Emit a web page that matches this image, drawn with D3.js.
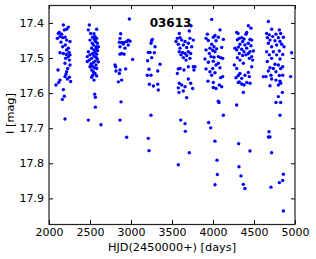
<!DOCTYPE html>
<html>
<head>
<meta charset="utf-8">
<script src="https://cdn.jsdelivr.net/npm/d3@7"></script>
<style>
  html, body { margin: 0; padding: 0; background: #fff; }
  svg { display: block; }
  text { font-family: "DejaVu Sans", sans-serif; }
</style>
</head>
<body>
<svg id="chart" width="316" height="259"></svg>
<script>
// ---- data: [HJD-2450000, I mag], grouped by observing season ----
const season1 = [[2175,17.406],[2126,17.427],[2236,17.412],[2215,17.418],[2187,17.420],[2114,17.430],[2154,17.432],[2134,17.439],[2195,17.441],[2167,17.442],[2102,17.444],[2215,17.449],[2256,17.453],[2146,17.455],[2199,17.463],[2167,17.468],[2236,17.472],[2215,17.477],[2134,17.485],[2244,17.484],[2175,17.487],[2211,17.490],[2256,17.491],[2236,17.496],[2203,17.501],[2248,17.506],[2195,17.515],[2256,17.520],[2110,17.534],[2228,17.530],[2215,17.539],[2207,17.546],[2195,17.553],[2248,17.555],[2134,17.563],[2224,17.560],[2118,17.570],[2085,17.577],[2264,17.567],[2175,17.590],[2187,17.609],[2163,17.618],[2195,17.674]];
const season2 = [[2492,17.406],[2480,17.420],[2508,17.430],[2549,17.431],[2581,17.418],[2561,17.439],[2532,17.441],[2581,17.444],[2500,17.449],[2553,17.447],[2569,17.453],[2528,17.458],[2589,17.458],[2541,17.463],[2573,17.468],[2602,17.468],[2520,17.472],[2581,17.475],[2549,17.477],[2593,17.479],[2480,17.482],[2561,17.484],[2532,17.487],[2581,17.489],[2500,17.491],[2549,17.494],[2467,17.496],[2573,17.498],[2520,17.501],[2589,17.503],[2492,17.506],[2561,17.509],[2467,17.510],[2541,17.513],[2602,17.511],[2512,17.517],[2573,17.520],[2528,17.523],[2500,17.525],[2553,17.528],[2581,17.530],[2520,17.534],[2541,17.539],[2561,17.544],[2532,17.549],[2581,17.551],[2520,17.555],[2549,17.563],[2557,17.603],[2565,17.612],[2565,17.640],[2480,17.677],[2634,17.690]];
const season3 = [[2980,17.389],[2874,17.431],[2866,17.444],[2858,17.455],[2886,17.456],[2915,17.456],[2947,17.453],[2967,17.449],[2988,17.452],[2906,17.460],[2866,17.468],[2967,17.463],[2927,17.472],[2886,17.487],[2866,17.489],[2915,17.489],[3020,17.504],[2805,17.520],[2813,17.525],[2817,17.537],[2866,17.534],[2858,17.544],[2935,17.531],[2886,17.563],[2846,17.568],[2878,17.625],[2866,17.677],[2947,17.726]];
const season4 = [[3260,17.447],[3252,17.451],[3244,17.458],[3293,17.468],[3211,17.484],[3232,17.484],[3285,17.485],[3252,17.499],[3203,17.508],[3354,17.518],[3220,17.532],[3326,17.537],[3199,17.549],[3244,17.549],[3224,17.575],[3273,17.580],[3326,17.575],[3333,17.591],[3244,17.663],[3211,17.729],[3220,17.764]];
const season5 = [[3732,17.408],[3711,17.423],[3589,17.430],[3565,17.444],[3598,17.442],[3549,17.453],[3618,17.449],[3659,17.453],[3719,17.444],[3760,17.449],[3699,17.458],[3577,17.461],[3638,17.463],[3740,17.468],[3598,17.472],[3679,17.470],[3589,17.482],[3630,17.484],[3699,17.482],[3659,17.487],[3728,17.487],[3610,17.491],[3679,17.493],[3638,17.499],[3719,17.501],[3671,17.506],[3760,17.525],[3780,17.525],[3598,17.530],[3577,17.531],[3699,17.525],[3646,17.534],[3768,17.534],[3565,17.544],[3699,17.560],[3589,17.572],[3618,17.577],[3577,17.585],[3728,17.572],[3659,17.582],[3752,17.587],[3638,17.594],[3585,17.598],[3679,17.613],[3606,17.677],[3659,17.687],[3663,17.709],[3711,17.770],[3577,17.804]];
const season6 = [[3984,17.390],[4085,17.420],[3931,17.432],[4024,17.436],[4065,17.441],[3915,17.444],[4004,17.441],[4126,17.447],[3943,17.450],[4037,17.451],[3984,17.461],[4012,17.468],[4106,17.470],[3963,17.472],[3915,17.477],[3996,17.478],[4045,17.474],[4024,17.482],[3955,17.487],[4065,17.496],[3976,17.496],[4012,17.498],[4093,17.499],[3902,17.503],[4118,17.501],[4004,17.509],[3943,17.512],[4065,17.515],[4037,17.520],[4085,17.528],[3915,17.531],[3996,17.530],[3963,17.539],[4024,17.542],[3984,17.549],[4093,17.556],[4118,17.553],[3939,17.566],[4004,17.570],[4077,17.577],[4106,17.582],[4037,17.587],[4004,17.584],[4065,17.623],[4073,17.627],[4126,17.663],[3947,17.684],[3972,17.699],[4024,17.737],[4049,17.791],[4053,17.832],[4024,17.861]];
const season7 = [[4431,17.408],[4463,17.415],[4289,17.427],[4411,17.427],[4305,17.430],[4402,17.432],[4350,17.442],[4321,17.444],[4378,17.446],[4451,17.447],[4472,17.449],[4297,17.448],[4362,17.453],[4431,17.458],[4329,17.461],[4390,17.463],[4463,17.465],[4309,17.469],[4411,17.472],[4350,17.475],[4268,17.472],[4289,17.477],[4378,17.482],[4451,17.482],[4492,17.480],[4321,17.487],[4431,17.487],[4402,17.491],[4472,17.496],[4362,17.493],[4297,17.499],[4329,17.506],[4443,17.501],[4484,17.506],[4260,17.520],[4370,17.515],[4472,17.525],[4289,17.530],[4431,17.541],[4329,17.544],[4309,17.550],[4390,17.549],[4281,17.556],[4350,17.558],[4443,17.553],[4321,17.568],[4411,17.570],[4309,17.570],[4378,17.577],[4451,17.572],[4350,17.574],[4370,17.598],[4289,17.634],[4313,17.744],[4451,17.765],[4317,17.810],[4341,17.836],[4370,17.860],[4390,17.872]];
const season8 = [[4675,17.396],[4715,17.418],[4809,17.420],[4654,17.430],[4687,17.434],[4768,17.432],[4825,17.430],[4663,17.442],[4728,17.439],[4797,17.442],[4858,17.441],[4695,17.449],[4756,17.451],[4817,17.453],[4675,17.458],[4776,17.463],[4837,17.461],[4715,17.468],[4866,17.468],[4654,17.482],[4736,17.482],[4809,17.480],[4959,17.485],[4687,17.491],[4776,17.491],[4850,17.490],[4715,17.501],[4817,17.503],[4663,17.510],[4756,17.518],[4797,17.520],[4850,17.525],[4695,17.528],[4736,17.530],[4825,17.530],[4675,17.537],[4768,17.539],[4646,17.553],[4614,17.553],[4707,17.549],[4809,17.550],[4850,17.549],[4947,17.553],[4715,17.560],[4768,17.563],[4817,17.566],[4695,17.579],[4797,17.577],[4825,17.572],[4846,17.598],[4797,17.610],[4768,17.627],[4825,17.627],[4817,17.663],[4683,17.710],[4675,17.725],[4695,17.725],[4715,17.770],[4858,17.831],[4850,17.849],[4809,17.855],[4707,17.868],[4858,17.936]];

const xTicks = [2000, 2500, 3000, 3500, 4000, 4500, 5000];
const yTicks = [17.4, 17.5, 17.6, 17.7, 17.8, 17.9];
const xDomain = [2000, 5000];
const yDomain = [17.349, 17.973];
const starName = "03613";
const xTitle = "HJD(2450000+) [days]";
const yTitle = "I [mag]";

const seasons = [season1, season2, season3, season4, season5, season6, season7, season8];
const points = seasons.flat();

// ---- layout ----
const L = 49, T = 5, R = 295, B = 224;
const svg = d3.select("#chart");
const x = d3.scaleLinear().domain(xDomain).range([L, R]);
const y = d3.scaleLinear().domain(yDomain).range([T, B]);

// points
svg.append("g").selectAll("circle").data(points).join("circle")
  .attr("cx", d => x(d[0])).attr("cy", d => y(d[1]))
  .attr("r", 1.7).attr("fill", "#0000ff");

// axes (ticks inside)
const fmtY = d3.format(".1f");
const axBottom = svg.append("g").attr("transform", `translate(0,${B})`)
  .call(d3.axisBottom(x).tickValues(xTicks).tickSizeInner(-4).tickSizeOuter(0).tickPadding(4.5).tickFormat(d3.format("d")));
const axTop = svg.append("g").attr("transform", `translate(0,${T})`)
  .call(d3.axisTop(x).tickValues(xTicks).tickSizeInner(-4).tickSizeOuter(0).tickFormat(""));
const axLeft = svg.append("g").attr("transform", `translate(${L},0)`)
  .call(d3.axisLeft(y).tickValues(yTicks).tickSizeInner(-4).tickSizeOuter(0).tickPadding(5).tickFormat(fmtY));
const axRight = svg.append("g").attr("transform", `translate(${R},0)`)
  .call(d3.axisRight(y).tickValues(yTicks).tickSizeInner(-4).tickSizeOuter(0).tickFormat(""));

[axBottom, axTop, axLeft, axRight].forEach(g => {
  g.select(".domain").remove();
  g.selectAll(".tick line").attr("stroke", "#000").attr("stroke-width", 1);
  g.selectAll(".tick text").attr("font-size", 11).attr("fill", "#000")
    .attr("font-family", "DejaVu Sans, sans-serif");
});

// frame
svg.append("rect").attr("x", L).attr("y", T + 0.5).attr("width", R - L).attr("height", B - T)
  .attr("fill", "none").attr("stroke", "#222").attr("stroke-width", 1.2);

// titles
svg.append("text").attr("x", (L + R) / 2).attr("y", 250.5).attr("text-anchor", "middle")
  .attr("font-size", 11.3).text(xTitle);
svg.append("text").attr("transform", `translate(14,${(T + B) / 2 - 1}) rotate(-90)`)
  .attr("text-anchor", "middle").attr("font-size", 11.3).text(yTitle);
svg.append("text").attr("x", 170.5).attr("y", 26.5).attr("text-anchor", "middle")
  .attr("font-size", 12).attr("font-weight", "bold").text(starName);
</script>
</body>
</html>
